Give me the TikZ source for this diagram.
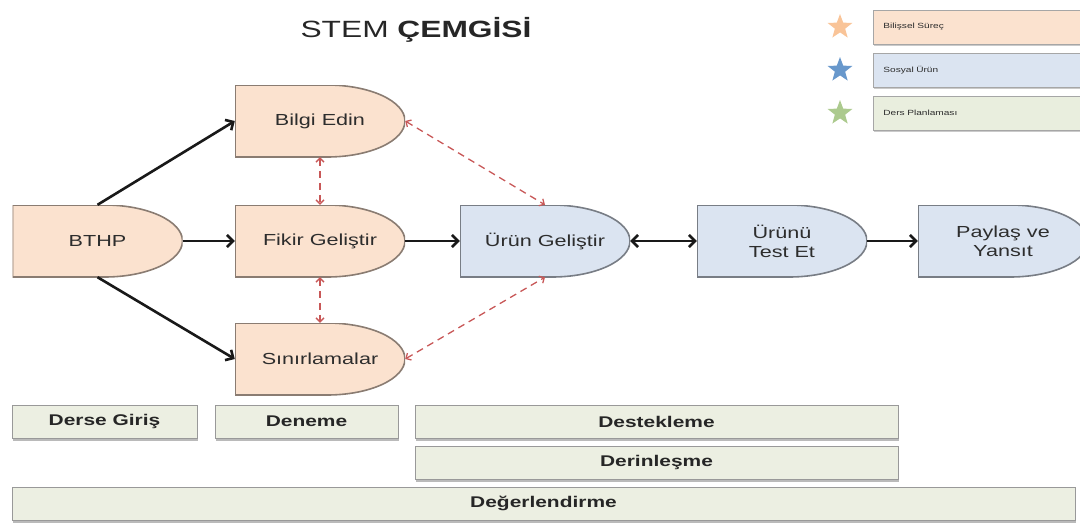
\documentclass[tikz,border=0pt]{standalone}
\usepackage{fontspec}
\setmainfont[FakeStretch=1.35]{Liberation Sans}
\usetikzlibrary{arrows.meta,shapes.geometric,shadows}

\definecolor{peachfill}{RGB}{251,226,207}
\definecolor{bluefill}{RGB}{219,228,241}
\definecolor{barfill}{RGB}{236,239,226}
\definecolor{greenfill}{RGB}{233,238,222}
\definecolor{peachstar}{RGB}{249,196,152}
\definecolor{bluestar}{RGB}{104,152,204}
\definecolor{greenstar}{RGB}{172,202,142}
\definecolor{dashred}{RGB}{200,88,88}
\definecolor{inktext}{RGB}{45,45,45}

\begin{document}
\begin{tikzpicture}[x=1pt, y=-1pt,
  stepnode/.style={rectangle, minimum width=170pt, minimum height=72pt, inner sep=0pt,
    font=\fontsize{16}{19}\selectfont, text=inktext, align=center,
    path picture={
      \draw[fill=#1, draw=#1!55!black, line width=1.6pt]
        (path picture bounding box.north west) -- ([xshift=-78pt]path picture bounding box.north east)
        arc[start angle=90, end angle=-90, x radius=78pt, y radius=36pt]
        -- (path picture bounding box.south west) -- cycle;}},
  barnode/.style={rectangle, minimum height=33pt, inner sep=0pt, fill=barfill, draw=black!40,
    line width=0.8pt, font=\bfseries\fontsize{15.5}{18}\selectfont, text=black!85,
    drop shadow={shadow xshift=1pt, shadow yshift=-2.5pt, opacity=0.45, fill=black!60}},
  legendbox/.style={rectangle, anchor=west, minimum height=34pt, text width=200pt, inner xsep=10pt,
    align=left, fill=#1, draw=black!35, line width=0.8pt, font=\fontsize{7.5}{9}\selectfont,
    text=inktext, drop shadow={shadow xshift=1pt, shadow yshift=-2pt, opacity=0.35, fill=black!60}},
  legendstar/.style={star, star points=5, star point ratio=2.4, minimum size=26pt, inner sep=0pt, fill=#1},
  flowarrow/.style={line width=2.6pt, black!90, -{Straight Barb[length=6pt, width=12pt]}},
  twoarrow/.style={line width=2.6pt, black!90, {Straight Barb[length=6pt, width=12pt]}-{Straight Barb[length=6pt, width=12pt]}},
  dasharrow/.style={dashred, line width=1.3pt, dash pattern=on 7pt off 5pt,
    {Straight Barb[length=4pt, width=8pt]}-{Straight Barb[length=4pt, width=8pt]}}
]
\useasboundingbox (0,0) rectangle (1080,525);

% === TITLE ===
\node[font=\fontsize{23.5}{26}\selectfont, text=black!85] (title) at (416,30) {STEM \textbf{ÇEMGİSİ}};

% === LEGEND ===
\node[legendstar=peachstar] (starcog) at (840,27) {};
\node[legendstar=bluestar] (starsoc) at (840,70) {};
\node[legendstar=greenstar] (starplan) at (840,113) {};
\node[legendbox=peachfill] (keycog) at (873,27) {Bilişsel Süreç};
\node[legendbox=bluefill] (keysoc) at (873,70) {Sosyal Ürün};
\node[legendbox=greenfill] (keyplan) at (873,113) {Ders Planlaması};

% === STEPS ===
\node[stepnode=peachfill] (bthp) at (97.5,241) {BTHP};
\node[stepnode=peachfill] (bilgi) at (320,121) {Bilgi Edin};
\node[stepnode=peachfill] (fikir) at (320,241) {Fikir Geliştir};
\node[stepnode=peachfill] (sinir) at (320,359) {Sınırlamalar};
\node[stepnode=bluefill] (urun) at (545,241) {Ürün Geliştir};
\node[stepnode=bluefill] (test) at (782,241) {Ürünü\\Test Et};
\node[stepnode=bluefill] (paylas) at (1003,241) {Paylaş ve\\Yansıt};

% solid flow
\draw[flowarrow] (bthp.north) -- (bilgi.west);
\draw[flowarrow] (bthp.east) -- (fikir.west);
\draw[flowarrow] (bthp.south) -- (sinir.west);
\draw[flowarrow] (fikir.east) -- (urun.west);
\draw[twoarrow] (urun.east) -- (test.west);
\draw[flowarrow] (test.east) -- (paylas.west);

% dashed links
\draw[dasharrow] (bilgi.south) -- (fikir.north);
\draw[dasharrow] (fikir.south) -- (sinir.north);
\draw[dasharrow] (bilgi.east) -- (urun.north);
\draw[dasharrow] (sinir.east) -- (urun.south);

% === PHASE BARS ===
\node[barnode, minimum width=185pt] (giris) at (104.5,421.5) {Derse Giriş};
\node[barnode, minimum width=183pt] (deneme) at (306.5,421.5) {Deneme};
\node[barnode, minimum width=483pt] (destek) at (656.5,421.5) {Destekleme};
\node[barnode, minimum width=483pt] (derin) at (656.5,462.5) {Derinleşme};
\node[barnode, minimum width=1063pt] (deger) at (543.5,503.5) {Değerlendirme};

\end{tikzpicture}
\end{document}
